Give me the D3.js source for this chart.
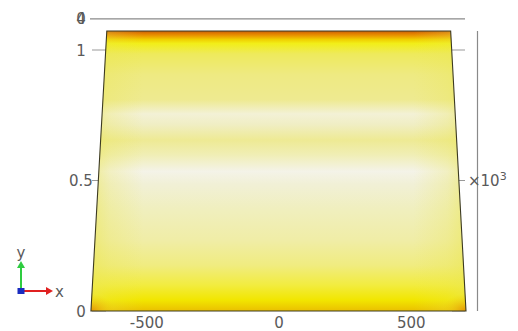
<!DOCTYPE html>
<html><head><meta charset="utf-8">
<script src="https://cdn.jsdelivr.net/npm/d3@7"></script>
<style>html,body{margin:0;padding:0;background:#fff;}svg{display:block;}</style>
</head><body>
<svg id="c" width="518" height="331"></svg>
<script>
// ---- data ----
const xTicks = [-500, 0, 500];
const xTickLabels = ["-500", "0", "500"];
const yTicks = [0, 0.5, 1];
const yTickLabels = ["0", "0.5", "1"];
const yExponent = "3";
// trapezoid domain corners (x in m, y in 10^3 m)
const domainX = [-711, 707, 649, -651];
const domainY = [0, 0, 1.073, 1.073];
// vertical colour profile (y value, colour)
const profileY = [1.073, 1.064, 1.052, 1.04, 1.025, 0.985, 0.905, 0.81, 0.755, 0.715, 0.655, 0.6, 0.535, 0.485, 0.39, 0.27, 0.175, 0.1, 0.042, 0];
const profileColor = ["#c05e10", "#e07a00", "#eca200", "#f0d000", "#f2ee18", "#eeea5c", "#eeea82", "#eeea90", "#f3f1d6", "#f0eec4", "#eeea94", "#f0eeb4", "#f4f3e8", "#f1f0d6", "#f0efbe", "#f0eda6", "#f0ec80", "#f2ec40", "#f2e600", "#eac000"];
// lateral edge tint (fraction across width, opacity)
const edgeFrac = [0, 0.05, 0.14, 0.86, 0.95, 1];
const edgeOpacity = [0.55, 0.25, 0, 0, 0.25, 0.55];

const svg = d3.select("#c");
const x = d3.scaleLinear().domain([-500, 500]).range([146.75, 411.25]);
const y = d3.scaleLinear().domain([0, 1]).range([311, 50]);
const font = "'DejaVu Sans', sans-serif";
const labelColor = "#5a5a5a";

const defs = svg.append("defs");
const yTop = d3.max(domainY);
const vg = defs.append("linearGradient").attr("id", "vg").attr("gradientUnits", "userSpaceOnUse")
  .attr("x1", 0).attr("x2", 0).attr("y1", y(yTop)).attr("y2", y(0));
profileY.forEach((v, i) => vg.append("stop").attr("offset", (yTop - v) / yTop).attr("stop-color", profileColor[i]));
const hg = defs.append("linearGradient").attr("id", "hg").attr("gradientUnits", "userSpaceOnUse")
  .attr("x1", x(d3.min(domainX))).attr("x2", x(d3.max(domainX))).attr("y1", 0).attr("y2", 0);
edgeFrac.forEach((f, i) => hg.append("stop").attr("offset", f).attr("stop-color", "#ebe650").attr("stop-opacity", edgeOpacity[i]));
const rg = defs.append("radialGradient").attr("id", "rg");
rg.append("stop").attr("offset", 0).attr("stop-color", "#e49000").attr("stop-opacity", 0.95);
rg.append("stop").attr("offset", 1).attr("stop-color", "#f0d000").attr("stop-opacity", 0);

const pts = domainX.map((d, i) => [x(d), y(domainY[i])]);
defs.append("clipPath").attr("id", "clip").append("polygon").attr("points", pts.map(p => p.join(",")).join(" "));

// frame lines
svg.append("line").attr("x1", 90).attr("x2", 465).attr("y1", y(1.119)).attr("y2", y(1.119))
  .attr("stroke", "#8a8a8a").attr("stroke-width", 1.2);
svg.append("line").attr("x1", 477.5).attr("x2", 477.5).attr("y1", y(1.073)).attr("y2", y(0))
  .attr("stroke", "#8a8a8a").attr("stroke-width", 1.2);
// y ticks (left and right), behind the domain
yTicks.forEach(v => {
  svg.append("line").attr("x1", 92).attr("x2", 106).attr("y1", y(v)).attr("y2", y(v)).attr("stroke", "#999");
  svg.append("line").attr("x1", 452).attr("x2", 465).attr("y1", y(v)).attr("y2", y(v)).attr("stroke", "#999");
});

// domain fill
const g = svg.append("g").attr("clip-path", "url(#clip)");
g.append("rect").attr("x", 80).attr("y", 20).attr("width", 400).attr("height", 300).attr("fill", "url(#vg)");
g.append("rect").attr("x", 80).attr("y", 20).attr("width", 400).attr("height", 300).attr("fill", "url(#hg)");
[[domainX[0], 0], [domainX[1], 0]].forEach(c => {
  g.append("ellipse").attr("cx", x(c[0])).attr("cy", y(c[1])).attr("rx", 24).attr("ry", 17).attr("fill", "url(#rg)");
});
svg.append("polygon").attr("points", pts.map(p => p.join(",")).join(" "))
  .attr("fill", "none").attr("stroke", "#3c3a22").attr("stroke-width", 1.1);

// x tick labels
xTicks.forEach((v, i) => {
  svg.append("text").attr("x", x(v)).attr("y", 328).attr("text-anchor", "middle")
    .attr("font-family", font).attr("font-size", 15).attr("fill", labelColor).text(xTickLabels[i]);
});
// y tick labels
yTicks.forEach((v, i) => {
  svg.append("text").attr("x", 81).attr("y", y(v) + 5.5).attr("text-anchor", "middle")
    .attr("font-family", font).attr("font-size", 15).attr("fill", labelColor).text(yTickLabels[i]);
});
// overlapping top label
["4", "0"].forEach(t => {
  svg.append("text").attr("x", 81).attr("y", y(1.119) + 5.5).attr("text-anchor", "middle")
    .attr("font-family", font).attr("font-size", 15).attr("fill", labelColor).text(t);
});
// exponent
const ex = svg.append("text").attr("x", 468).attr("y", y(0.5) + 5.5)
  .attr("font-family", font).attr("font-size", 15).attr("fill", labelColor);
ex.append("tspan").text("×10");
ex.append("tspan").attr("dy", -6).attr("font-size", 11).text(yExponent);

// axis triad
const tri = svg.append("g");
tri.append("line").attr("x1", 21).attr("x2", 21).attr("y1", 291).attr("y2", 267).attr("stroke", "#2ecc40").attr("stroke-width", 2);
tri.append("path").attr("d", "M17,268 L21,261 L25,268 Z").attr("fill", "#2ecc40");
tri.append("line").attr("x1", 21).attr("x2", 47).attr("y1", 291).attr("y2", 291).attr("stroke", "#e02020").attr("stroke-width", 2);
tri.append("path").attr("d", "M46,287 L53,291 L46,295 Z").attr("fill", "#e02020");
tri.append("rect").attr("x", 17.5).attr("y", 288).attr("width", 7).attr("height", 6).attr("fill", "#1a2cc0");
tri.append("text").attr("x", 21).attr("y", 258).attr("text-anchor", "middle").attr("font-family", font).attr("font-size", 15).attr("fill", labelColor).text("y");
tri.append("text").attr("x", 55).attr("y", 297).attr("font-family", font).attr("font-size", 15).attr("fill", labelColor).text("x");
</script>
</body></html>
